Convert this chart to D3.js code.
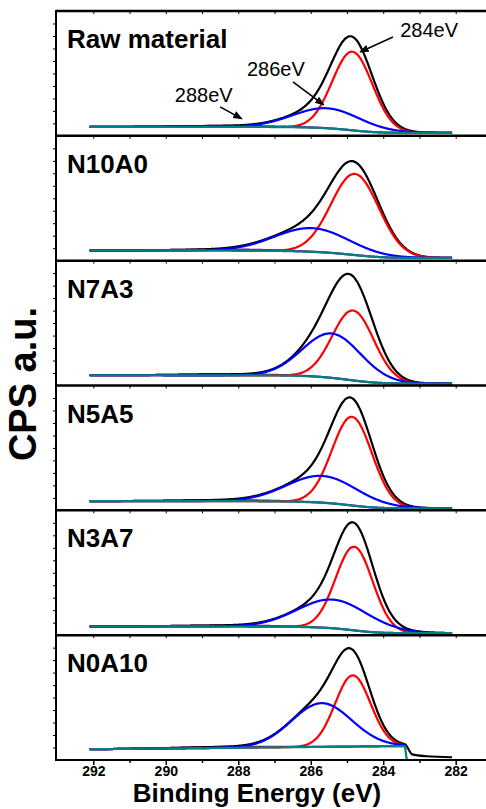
<!DOCTYPE html>
<html>
<head>
<meta charset="utf-8">
<script src="https://cdn.jsdelivr.net/npm/d3@7"></script>
<style>
  body { margin: 0; background: #fff; }
  svg { display: block; }
  text { font-family: "Liberation Sans", Arial, Helvetica, sans-serif; }
</style>
</head>
<body>
<div id="chart"></div>
<script>
// C1s XPS deconvolution, one panel per sample (values in % of panel height)
const samples = ['Raw material', 'N10A0', 'N7A3', 'N5A5', 'N3A7', 'N0A10'];

// C-C / C=C component (~284 eV), red
const c284Center = [284.85, 284.78, 284.83, 284.86, 284.80, 284.84];
const c284Height = [63, 65, 56, 71, 67, 57];
const c284Fwhm = [1.30, 1.55, 1.35, 1.30, 1.20, 1.15];

// C-O component (~286 eV), blue
const c286Center = [285.56, 285.97, 285.42, 285.69, 285.39, 285.70];
const c286Height = [16, 19, 35.6, 21.5, 23, 35];
const c286Fwhm = [2.2, 2.4, 1.9, 2.3, 2.3, 1.95];

// O-C=O component (~288 eV), very weak
const c288Center = [288.3, 288.3, 288.3, 288.3, 288.3, 288.3];
const c288Height = [0.8, 0.8, 0.8, 0.8, 0.8, 0.8];
const c288Fwhm = [3, 3, 3, 3, 3, 3];

// background (teal): level at the high-BE end and at the low-BE end of the fit
const bgModel = ['shirley', 'shirley', 'shirley', 'shirley', 'shirley', 'linear'];
const bgHigh = [7.2, 8.2, 8.2, 7.4, 7.0, 8.6];
const bgLow = [2.4, 2.2, 1.6, 1.6, 1.6, 11.2];
const fitEnd = [282.1, 282.1, 282.1, 282.1, 282.1, 283.4];

// N0A10 raw signal below the fit window
const tailBE = [283.2, 282.8, 282.1];
const tailCps = [4.5, 3.0, 2.2];

const xTicks = d3.range(282, 293, 1);

const width = 486, height = 809;
const plotLeft = 56, plotRight = 492, plotTop = 11, plotBottom = 760;
const panelH = (plotBottom - plotTop) / samples.length;

const svg = d3.select('#chart').append('svg')
  .attr('width', width)
  .attr('height', height);

const defs = svg.append('defs');
defs.append('marker')
  .attr('id', 'arrow')
  .attr('viewBox', '0 0 10 10')
  .attr('refX', 9).attr('refY', 5)
  .attr('markerWidth', 6).attr('markerHeight', 6)
  .attr('markerUnits', 'strokeWidth')
  .attr('orient', 'auto')
  .append('path')
  .attr('d', 'M0,1 L10,5 L0,9 Z')
  .attr('fill', '#000');

const x = d3.scaleLinear().domain([292, 282]).range([93.3, 455.7]);

const grid = d3.range(0, 501).map(k => 282.1 + k * 0.02);

function gauss(e, c, h, fwhm) {
  return h * Math.exp(-4 * Math.LN2 * (e - c) * (e - c) / (fwhm * fwhm));
}

function panelCurves(i) {
  const pts = grid.filter(e => e >= fitEnd[i] - 1e-9);
  const red = pts.map(e => gauss(e, c284Center[i], c284Height[i], c284Fwhm[i]));
  const blue = pts.map(e => gauss(e, c286Center[i], c286Height[i], c286Fwhm[i]));
  const purple = pts.map(e => gauss(e, c288Center[i], c288Height[i], c288Fwhm[i]));
  const sum = pts.map((e, k) => red[k] + blue[k] + purple[k]);

  let bg;
  if (bgModel[i] === 'shirley') {
    const cum = [];
    let acc = 0;
    sum.forEach((s, k) => { acc += s; cum.push(acc); });
    bg = cum.map(c => bgLow[i] + (bgHigh[i] - bgLow[i]) * c / acc);
  } else {
    const e0 = pts[0], e1 = pts[pts.length - 1];
    bg = pts.map(e => bgLow[i] + (bgHigh[i] - bgLow[i]) * (e - e0) / (e1 - e0));
  }

  return {
    teal: pts.map((e, k) => [e, bg[k]]),
    red: pts.map((e, k) => [e, bg[k] + red[k]]),
    blue: pts.map((e, k) => [e, bg[k] + blue[k]]),
    purple: pts.map((e, k) => [e, bg[k] + purple[k]]),
    black: pts.map((e, k) => [e, bg[k] + sum[k]])
  };
}

samples.forEach((name, i) => {
  const top = plotTop + i * panelH;
  const y = d3.scaleLinear().domain([0, 100]).range([top + panelH, top]);
  const line = d3.line().x(d => x(d[0])).y(d => y(d[1])).curve(d3.curveMonotoneX);
  const straight = d3.line().x(d => x(d[0])).y(d => y(d[1]));
  const g = svg.append('g').attr('class', 'panel');

  const c = panelCurves(i);
  const cut = fitEnd[i] > 282.2;

  if (cut) {
    // raw data continues past the fit window, background drops to zero
    const tail = tailBE.map((e, k) => [e, tailCps[k]]);
    c.black = tail.slice().reverse().concat(c.black);
    const bg0 = c.teal[0];
    c.teal = [[282.1, 0], [bg0[0] - 0.05, 0]].concat(c.teal);
  }

  const series = [
    { key: 'purple', color: '#8000a0' },
    { key: 'black', color: '#000000' },
    { key: 'red', color: '#ff0000' },
    { key: 'blue', color: '#0000ff' },
    { key: 'teal', color: '#008080' }
  ];

  series.forEach(s => {
    g.append('path')
      .datum(c[s.key])
      .attr('d', s.key === 'teal' && cut ? straight : line)
      .attr('fill', 'none')
      .attr('stroke', s.color)
      .attr('stroke-width', 2.2)
      .attr('stroke-linejoin', 'round');
  });

  // left ticks
  g.append('g')
    .attr('transform', `translate(${plotLeft},0)`)
    .call(d3.axisLeft(y).tickValues(d3.range(10, 100, 10)).tickSize(3).tickFormat(''))
    .call(a => a.select('.domain').remove())
    .call(a => a.selectAll('line').attr('stroke-width', 1));

  // top line of the panel with small ticks
  g.append('line')
    .attr('x1', plotLeft).attr('x2', plotRight)
    .attr('y1', top).attr('y2', top)
    .attr('stroke', '#000')
    .attr('stroke-width', 2.5);
  g.append('g')
    .attr('transform', `translate(0,${top})`)
    .call(d3.axisBottom(x).tickValues(xTicks).tickSize(3).tickFormat(''))
    .call(a => a.select('.domain').remove())
    .call(a => a.selectAll('line').attr('stroke-width', 1));

  g.append('text')
    .attr('x', 67)
    .attr('y', top + 37)
    .attr('font-size', 26)
    .attr('font-weight', 'bold')
    .text(name);

  if (i === 0) {
    const notes = [
      { label: '284eV', tx: 283.53, ty: 79, from: [283.73, 79.2], to: [284.64, 67.2] },
      { label: '286eV', tx: 287.76, ty: 48, from: [286.49, 43.2], to: [285.64, 24.8] },
      { label: '288eV', tx: 289.75, ty: 27.5, from: [288.5, 23.2], to: [287.9, 13.6] }
    ];
    notes.forEach(n => {
      g.append('text')
        .attr('x', x(n.tx))
        .attr('y', y(n.ty))
        .attr('font-size', 20)
        .text(n.label);
      g.append('line')
        .attr('x1', x(n.from[0])).attr('y1', y(n.from[1]))
        .attr('x2', x(n.to[0])).attr('y2', y(n.to[1]))
        .attr('stroke', '#000')
        .attr('stroke-width', 1.6)
        .attr('marker-end', 'url(#arrow)');
    });
  }
});

// frame: left axis and bottom axis
svg.append('line')
  .attr('x1', plotLeft).attr('x2', plotLeft)
  .attr('y1', plotTop - 1).attr('y2', plotBottom + 1)
  .attr('stroke', '#000').attr('stroke-width', 2);
svg.append('line')
  .attr('x1', plotLeft - 1).attr('x2', plotRight)
  .attr('y1', plotBottom).attr('y2', plotBottom)
  .attr('stroke', '#000').attr('stroke-width', 2);

const xAxis = svg.append('g')
  .attr('transform', `translate(0,${plotBottom})`)
  .call(d3.axisBottom(x).tickValues(xTicks.filter(v => v % 2 === 0)).tickSize(5).tickPadding(1))
  .call(a => a.select('.domain').remove());
xAxis.selectAll('line').attr('stroke-width', 1.5);
xAxis.selectAll('text')
  .attr('font-size', 14)
  .attr('font-weight', 'bold')
  .attr('font-family', '"Liberation Sans", Arial, sans-serif')
  .attr('fill', '#000');

svg.append('g')
  .attr('transform', `translate(0,${plotBottom})`)
  .call(d3.axisBottom(x).tickValues(xTicks.filter(v => v % 2 !== 0)).tickSize(3).tickFormat(''))
  .call(a => a.select('.domain').remove())
  .call(a => a.selectAll('line').attr('stroke-width', 1.5));

svg.append('text')
  .attr('x', 257)
  .attr('y', 802)
  .attr('text-anchor', 'middle')
  .attr('font-size', 26)
  .attr('font-weight', 'bold')
  .text('Binding Energy (eV)');

svg.append('text')
  .attr('transform', 'translate(36,384) rotate(-90)')
  .attr('text-anchor', 'middle')
  .attr('font-size', 38)
  .attr('font-weight', 'bold')
  .text('CPS a.u.');
</script>
</body>
</html>
